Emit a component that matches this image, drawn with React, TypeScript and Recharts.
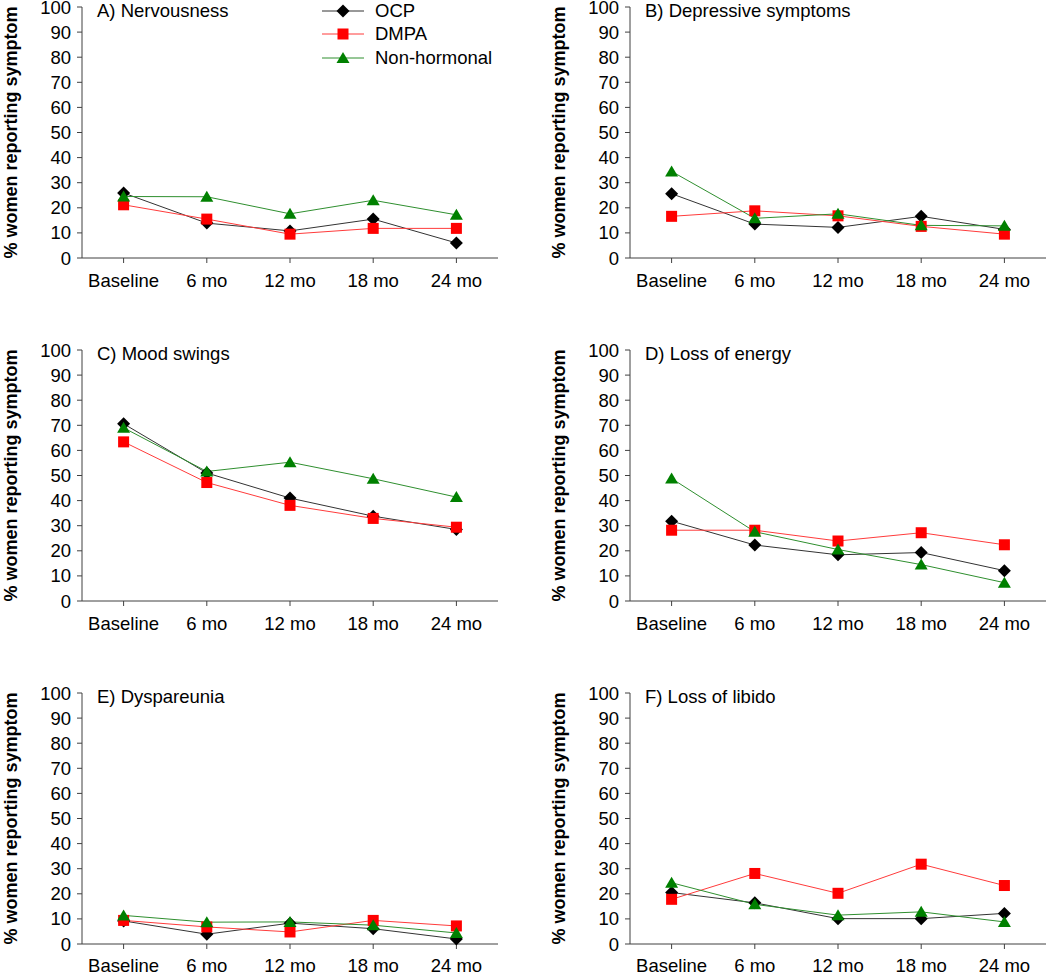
import { LineChart, Line, XAxis, YAxis, Legend } from 'recharts'

// time points and y ticks
const MONTHS = ['Baseline', '6 mo', '12 mo', '18 mo', '24 mo']
const Y_TICKS = [0, 10, 20, 30, 40, 50, 60, 70, 80, 90, 100]

// % women reporting each symptom
const ocpNervousness = [25.9, 13.9, 10.8, 15.5, 6.0]
const dmpaNervousness = [21.2, 15.5, 9.5, 11.8, 11.8]
const nhNervousness = [24.5, 24.4, 17.6, 23.0, 17.2]

const ocpDepressive = [25.6, 13.5, 12.2, 16.6, 11.4]
const dmpaDepressive = [16.6, 18.8, 16.8, 12.6, 9.5]
const nhDepressive = [34.5, 15.8, 17.6, 13.0, 12.8]

const ocpMood = [70.6, 51.0, 41.0, 33.8, 28.5]
const dmpaMood = [63.4, 47.2, 38.1, 32.9, 29.4]
const nhMood = [69.0, 51.6, 55.3, 48.7, 41.4]

const ocpEnergy = [31.8, 22.3, 18.4, 19.3, 12.1]
const dmpaEnergy = [28.2, 28.2, 23.9, 27.2, 22.4]
const nhEnergy = [48.8, 27.6, 20.5, 14.5, 7.3]

const ocpDyspareunia = [9.2, 3.9, 8.3, 6.1, 2.0]
const dmpaDyspareunia = [9.4, 6.8, 4.8, 9.4, 7.2]
const nhDyspareunia = [11.4, 8.7, 8.8, 7.5, 4.4]

const ocpLibido = [20.5, 16.4, 10.1, 10.1, 12.2]
const dmpaLibido = [17.8, 28.1, 20.2, 31.8, 23.3]
const nhLibido = [24.4, 15.8, 11.5, 12.8, 8.8]

const PANELS = [
  { title: 'A) Nervousness', ocp: ocpNervousness, dmpa: dmpaNervousness, nh: nhNervousness },
  { title: 'B) Depressive symptoms', ocp: ocpDepressive, dmpa: dmpaDepressive, nh: nhDepressive },
  { title: 'C) Mood swings', ocp: ocpMood, dmpa: dmpaMood, nh: nhMood },
  { title: 'D) Loss of energy', ocp: ocpEnergy, dmpa: dmpaEnergy, nh: nhEnergy },
  { title: 'E) Dyspareunia', ocp: ocpDyspareunia, dmpa: dmpaDyspareunia, nh: nhDyspareunia },
  { title: 'F) Loss of libido', ocp: ocpLibido, dmpa: dmpaLibido, nh: nhLibido },
]

const SERIES = [
  { key: 'ocp', name: 'OCP', line: '#333333', fill: '#000000', shape: 'diamond' },
  { key: 'dmpa', name: 'DMPA', line: '#ff3b3b', fill: '#ff0000', shape: 'square' },
  { key: 'nh', name: 'Non-hormonal', line: '#2f8f2f', fill: '#008000', shape: 'triangle' },
]

const FONT = '"Liberation Sans", Arial, sans-serif'
const AXIS_COLOR = '#404040'

function Marker({ shape, cx, cy, fill }: { shape: string; cx: number; cy: number; fill: string }) {
  if (shape === 'diamond') {
    return <path d={`M${cx},${cy - 6.5}L${cx + 6.5},${cy}L${cx},${cy + 6.5}L${cx - 6.5},${cy}Z`} fill={fill} />
  }
  if (shape === 'square') {
    return <rect x={cx - 5.5} y={cy - 5.5} width={11} height={11} fill={fill} />
  }
  return <path d={`M${cx},${cy - 6}L${cx + 6.5},${cy + 5}L${cx - 6.5},${cy + 5}Z`} fill={fill} />
}

const renderDot = (shape: string, fill: string) => (props: any) => {
  const { cx, cy, index } = props
  if (cx == null || cy == null) return <g key={`${shape}-${index}`} />
  return (
    <g key={`${shape}-${index}`}>
      <Marker shape={shape} cx={cx} cy={cy} fill={fill} />
    </g>
  )
}

const renderYLabel = (props: any) => {
  const vb = props.viewBox
  const x = 16.5
  const y = vb.y + vb.height / 2
  return (
    <text
      x={x}
      y={y}
      transform={`rotate(-90, ${x}, ${y})`}
      textAnchor="middle"
      fontFamily={FONT}
      fontWeight="bold"
      fontSize={18}
      fill="#000"
    >
      % women reporting symptom
    </text>
  )
}

function LegendContent() {
  return (
    <div style={{ fontFamily: FONT, fontSize: 18.5, color: '#000' }}>
      {SERIES.map((s) => (
        <div key={s.key} style={{ display: 'flex', alignItems: 'center', height: 23.5 }}>
          <svg width={42} height={16} style={{ marginRight: 11 }}>
            <line x1={0} y1={8} x2={42} y2={8} stroke={s.line} strokeWidth={1} />
            <Marker shape={s.shape} cx={21} cy={8} fill={s.fill} />
          </svg>
          <span>{s.name}</span>
        </div>
      ))}
    </div>
  )
}

function Panel({ title, ocp, dmpa, nh, showLegend, height, axisHeight, labelGap }: any) {
  const data = MONTHS.map((m, i) => ({ month: m, ocp: ocp[i], dmpa: dmpa[i], nh: nh[i] }))
  return (
    <div style={{ position: 'relative', width: 500, height }}>
      <LineChart width={500} height={height} data={data} margin={{ top: 7, right: 2, bottom: 0, left: 0 }}>
        <XAxis
          dataKey="month"
          interval={0}
          padding={{ left: 41.6, right: 41.6 }}
          height={axisHeight}
          tickSize={5}
          tickMargin={labelGap}
          stroke={AXIS_COLOR}
          tick={{ fill: '#000', fontSize: 18.5, fontFamily: FONT }}
        />
        <YAxis
          domain={[0, 100]}
          ticks={Y_TICKS}
          interval={0}
          width={82}
          tickSize={5}
          tickMargin={6}
          stroke={AXIS_COLOR}
          tick={{ fill: '#000', fontSize: 18.5, fontFamily: FONT }}
          label={renderYLabel}
        />
        {showLegend && (
          <Legend
            layout="vertical"
            align="center"
            verticalAlign="middle"
            content={<LegendContent />}
            wrapperStyle={{ left: 322, top: -1, width: 'auto', height: 'auto' }}
          />
        )}
        {SERIES.map((s) => (
          <Line
            key={s.key}
            type="linear"
            dataKey={s.key}
            name={s.name}
            stroke={s.line}
            strokeWidth={1}
            dot={renderDot(s.shape, s.fill)}
            activeDot={false}
            isAnimationActive={false}
          />
        ))}
      </LineChart>
      <div
        style={{
          position: 'absolute',
          left: 97,
          top: 0,
          fontFamily: FONT,
          fontSize: 18.5,
          color: '#000',
          whiteSpace: 'nowrap',
        }}
      >
        {title}
      </div>
    </div>
  )
}

// plot area is 251px tall starting 7px below each row top
const ROWS = [
  { top: 0, height: 300, axisHeight: 42, labelGap: 11 },
  { top: 343, height: 300, axisHeight: 42, labelGap: 11 },
  { top: 686, height: 288, axisHeight: 30, labelGap: 10 },
]
const COL_LEFTS = [0, 548]

export default function App() {
  return (
    <div style={{ position: 'absolute', left: 0, top: 0, width: 1050, height: 974, background: '#fff' }}>
      {/* let the "100" tick labels spill over the top of each svg */}
      <style>{'.recharts-surface { overflow: visible; }'}</style>
      {PANELS.map((p, i) => {
        const row = ROWS[Math.floor(i / 2)]
        return (
          <div key={p.title} style={{ position: 'absolute', left: COL_LEFTS[i % 2], top: row.top }}>
            <Panel
              {...p}
              showLegend={i === 0}
              height={row.height}
              axisHeight={row.axisHeight}
              labelGap={row.labelGap}
            />
          </div>
        )
      })}
    </div>
  )
}
